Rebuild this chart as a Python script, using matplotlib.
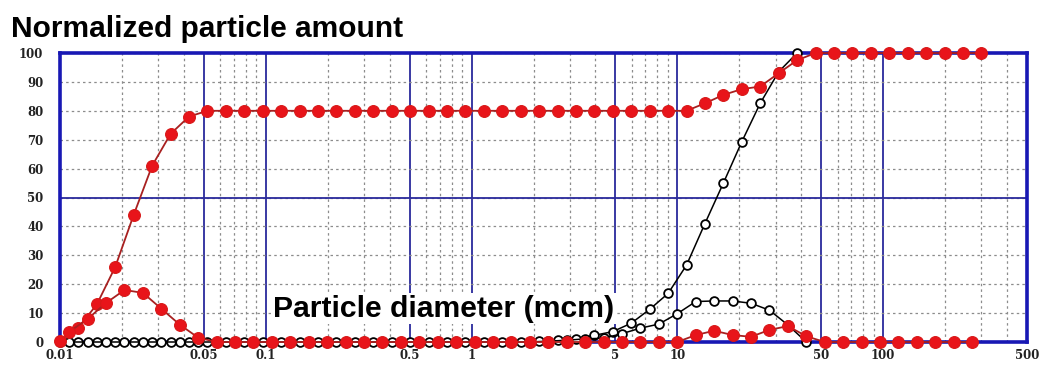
import numpy as np
import matplotlib
matplotlib.use('Agg')
import matplotlib.pyplot as plt
from matplotlib.ticker import FixedLocator, FixedFormatter, LogLocator, NullFormatter

# bin edges of the size analyser (mcm)
edges = [0.0100, 0.01229, 0.01510, 0.01856, 0.02281, 0.02804, 0.03446, 0.04235, 0.05204, 0.06396,
         0.07861, 0.09661, 0.1187, 0.1459, 0.1793, 0.2204, 0.2708, 0.3329, 0.4091, 0.5028,
         0.6179, 0.7593, 0.9332, 1.1469, 1.4095, 1.7322, 2.1289, 2.6163, 3.2154, 3.9517,
         4.8565, 5.9685, 7.3352, 9.0148, 11.078, 13.616, 16.733, 20.564, 25.273, 31.060,
         38.172, 46.912, 57.654, 70.855, 87.080, 107.02, 131.52, 161.64, 198.65, 244.13,
         300.0]

# red sample: cumulative (at edges) and per-bin amount (at bin centres)
red_cum = [0.5, 5, 13, 26, 44, 61, 72, 78, 80, 80,
           80, 80, 80, 80, 80, 80, 80, 80, 80, 80,
           80, 80, 80, 80, 80, 80, 80, 80, 80, 80,
           80, 80, 80, 80, 80, 82.6, 85.5, 87.5, 88.4, 93,
           97.5, 100, 100, 100, 100, 100, 100, 100, 100, 100,
           100]
red_bin = [3.5, 8, 13.5, 18, 17, 11.5, 6, 1.5, 0, 0,
           0, 0, 0, 0, 0, 0, 0, 0, 0, 0,
           0, 0, 0, 0, 0, 0, 0, 0, 0, 0,
           0, 0, 0, 0, 2.4, 3.9, 2.4, 1.8, 4.2, 5.5,
           2, 0, 0, 0, 0, 0, 0, 0, 0, 0]

# black sample
blk_cum = [0, 0, 0, 0, 0, 0, 0, 0, 0, 0,
           0, 0, 0, 0, 0, 0, 0, 0, 0, 0,
           0, 0, 0, 0, 0, 0, 0.3, 0.6, 1.2, 2.3,
           3.6, 6.5, 11.3, 16.8, 26.6, 41, 55, 69.3, 82.6, 93.5,
           100]
blk_bin = [0, 0, 0, 0, 0, 0, 0, 0, 0, 0,
           0, 0, 0, 0, 0, 0, 0, 0, 0, 0,
           0, 0, 0, 0, 0, 0, 0.3, 0.6, 1.1, 1.3,
           2.9, 4.8, 6.2, 9.8, 14, 14.2, 14.2, 13.4, 11, 5.9,
           0]

xticks = [0.01, 0.05, 0.1, 0.5, 1, 5, 10, 50, 100, 500]
xlabels = ['0.01', '0.05', '0.1', '0.5', '1', '5', '10', '50', '100', '500']
yticks = [0, 10, 20, 30, 40, 50, 60, 70, 80, 90, 100]

edges = np.array(edges)
centres = np.sqrt(edges[:-1] * edges[1:])

fig = plt.figure(figsize=(10.51, 3.65), dpi=100)
ax = fig.add_axes([60/1051, 23/365, 967/1051, 289/365])
ax.set_xscale('log')
ax.set_xlim(0.01, 500)
ax.set_ylim(0, 100)

ax.xaxis.set_major_locator(FixedLocator(xticks))
ax.xaxis.set_major_formatter(FixedFormatter(xlabels))
ax.xaxis.set_minor_locator(LogLocator(base=10, subs=range(2, 10), numticks=20))
ax.xaxis.set_minor_formatter(NullFormatter())
ax.set_yticks(yticks)
ax.set_yticklabels([str(v) for v in yticks])

for lab in ax.get_xticklabels() + ax.get_yticklabels():
    lab.set_fontfamily('DejaVu Serif')
    lab.set_fontweight('bold')
    lab.set_fontsize(8.5)
    lab.set_color('#222222')
ax.tick_params(axis='both', which='both', length=0)
ax.tick_params(axis='x', pad=5)
ax.tick_params(axis='y', pad=12)

dash = (0, (2, 2.5))
ax.grid(which='minor', axis='x', color='#8c8c8c', lw=0.9, ls=dash)
ax.grid(which='major', axis='y', color='#8c8c8c', lw=0.9, ls=dash)
ax.grid(which='major', axis='x', color='#2a2a9c', lw=1.3, ls='-')
ax.axhline(50, color='#2a2a9c', lw=1.3, zorder=1.5)
ax.set_axisbelow(True)

for sp in ax.spines.values():
    sp.set_color('#1818b4')
    sp.set_linewidth(2.6)

ax.text(0.1084, 8.8, 'Particle diameter (mcm)', family='Liberation Sans',
        weight='bold', fontsize=21.7, ha='left', va='baseline',
        bbox=dict(fc='white', ec='none', pad=1), zorder=3)

blk = dict(color='black', lw=1.1, marker='o', ms=6.3, mfc='white', mec='black',
           mew=1.3, clip_on=False, zorder=4)
ax.plot(edges[:len(blk_cum)], blk_cum, **blk)
ax.plot(centres[:len(blk_bin)], blk_bin, **blk)

red = dict(color='#a82020', lw=1.3, marker='o', ms=8.5, mfc='#e8141a', mec='#d81818',
           mew=0.8, clip_on=False, zorder=5)
ax.plot(edges, red_cum, **red)
ax.plot(centres, red_bin, **red)

fig.text(11/1051, (365 - 36.7)/365, 'Normalized particle amount', family='Liberation Sans',
         weight='bold', fontsize=21.5, ha='left', va='baseline')

fig.savefig('out.png', dpi=100)
